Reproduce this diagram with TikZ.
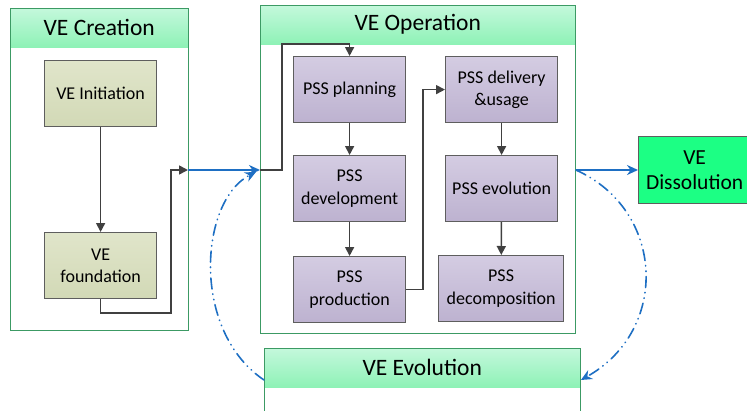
\documentclass[tikz,border=0pt]{standalone}
\usepackage{fontspec}
\setmainfont{Carlito}
\usetikzlibrary{arrows.meta}

\definecolor{panelline}{HTML}{3C9A64}
\definecolor{headtop}{HTML}{C4F8DC}
\definecolor{headbot}{HTML}{8EF2B6}
\definecolor{boxline}{HTML}{5E5E5E}
\definecolor{olivetop}{HTML}{E0E5CA}
\definecolor{olivebot}{HTML}{D2D9B6}
\definecolor{lilactop}{HTML}{D4CCE2}
\definecolor{lilacbot}{HTML}{BDB2D0}
\definecolor{flowgray}{HTML}{404040}
\definecolor{vblue}{HTML}{1E6FC3}
\definecolor{dissgreen}{HTML}{1CFF84}

\tikzset{
  panel/.style={draw=panelline, line width=0.9pt, anchor=north west},
  header/.style={top color=headtop, bottom color=headbot, anchor=north west,
    minimum height=39pt, inner sep=0pt, font=\fontsize{23.5}{26}\selectfont},
  stagebox/.style={draw=boxline, line width=1.2pt, anchor=north west, align=center,
    minimum width=112pt, minimum height=66pt, inner sep=2pt,
    font=\fontsize{18}{22.5}\selectfont},
  olivebox/.style={stagebox, top color=olivetop, bottom color=olivebot},
  lilacbox/.style={stagebox, top color=lilactop, bottom color=lilacbot},
  flow/.style={draw=flowgray, line width=1.6pt, -{Triangle[length=9pt,width=9pt]}},
  bluearrow/.style={draw=vblue, line width=2pt, -{Stealth[length=11pt,width=10pt]}},
  loopline/.style={draw=vblue, line width=1.6pt, line cap=round,
    dash pattern=on 11pt off 5pt on 0.5pt off 5pt on 0.5pt off 5pt,
    -{Stealth[length=11pt,width=10pt]}}
}

\begin{document}
\begin{tikzpicture}[x=1pt,y=-1pt]
\useasboundingbox (0,0) rectangle (747,410);
\clip (0,0) rectangle (747,410);

% VE Creation
\node[header, minimum width=178pt] (creahead) at (10,8) {VE Creation};
\node[panel, minimum width=178pt, minimum height=322pt] (creation) at (10,8) {};
\node[olivebox] (init) at (44,60) {VE Initiation};
\node[olivebox] (found) at (44,232) {VE\\foundation};

% VE Operation
\node[header, minimum width=315pt] (operhead) at (260,5) {VE Operation};
\node[panel, minimum width=315pt, minimum height=328pt] (operation) at (260,5) {};
\node[lilacbox] (plan) at (293,56) {PSS planning};
\node[lilacbox] (devel) at (293,155) {PSS\\development};
\node[lilacbox] (prod) at (293,256) {PSS\\production};
\node[lilacbox] (deliv) at (445,56) {PSS delivery\\\&usage};
\node[lilacbox] (pssevo) at (445,155) {PSS evolution};
\node[lilacbox, minimum width=125pt] (decomp) at (438,255) {PSS\\decomposition};

% VE Evolution
\node[header, minimum width=316pt] (evohead) at (264,348) {VE Evolution};
\node[panel, minimum width=316pt, minimum height=90pt] (evolution) at (264,348) {};

% VE Dissolution
\node[draw=boxline, line width=1.2pt, fill=dissgreen, anchor=north west, align=center,
  minimum width=112pt, minimum height=67pt, inner sep=2pt,
  font=\fontsize{21.5}{25}\selectfont]
  (dissol) at (638,136) {VE\\Dissolution};

\coordinate (join) at (188,170);
\coordinate (operin) at (operation.west |- join);
\coordinate (operout) at (operation.east |- join);

% flows
\draw[flow] (init) -- (found);
\draw[flow] (found.south) -- ++(0,14) -| ([xshift=-17pt]join) -- (join);
\draw[bluearrow] (join) -- (operin);
\draw[flow] (operin) -- ++(22,0) |- ([yshift=12pt]plan.north) -- (plan.north);
\draw[flow] (plan) -- (devel);
\draw[flow] (devel) -- (prod);
\draw[flow] (prod.east) -- ++(17,0) |- (deliv.west);
\draw[flow] (deliv) -- (pssevo);
\draw[flow] (pssevo) -- (decomp);
\draw[bluearrow] (operout) -- (dissol.west |- operout);

% loop
\draw[loopline] (evolution.west |- 0,380) .. controls (190,330) and (200,200) .. (256,172);
\draw[loopline] (operout) .. controls (665,210) and (670,330) .. (evolution.east |- 0,380);
\end{tikzpicture}
\end{document}
